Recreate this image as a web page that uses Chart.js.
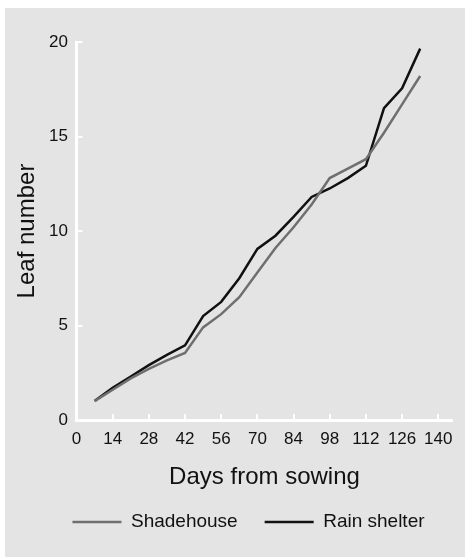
<!DOCTYPE html>
<html>
<head>
<meta charset="utf-8">
<script src="https://cdn.jsdelivr.net/npm/chart.js@4"></script>
<style>
  html, body { margin: 0; padding: 0; background: #fff; }
  #wrap { width: 468px; height: 557px; }
</style>
</head>
<body>
<div id="wrap"><canvas id="myChart" width="468" height="557"></canvas></div>
<script>
const days = [7, 14, 21, 28, 35, 42, 49, 56, 63, 70, 77, 84, 91, 98, 105, 112, 119, 126, 133];
const shadehouse = [1.0, 1.6, 2.2, 2.7, 3.15, 3.55, 4.9, 5.6, 6.5, 7.8, 9.1, 10.2, 11.4, 12.8, 13.3, 13.8, 15.2, 16.7, 18.2];
const rainShelter = [1.0, 1.7, 2.3, 2.9, 3.45, 3.95, 5.5, 6.25, 7.5, 9.05, 9.75, 10.75, 11.8, 12.25, 12.8, 13.45, 16.5, 17.55, 19.65];
const xTicks = [0, 14, 28, 42, 56, 70, 84, 98, 112, 126, 140];
const yTicks = [0, 5, 10, 15, 20];

const FONT = '"Liberation Sans", Arial, sans-serif';
const INK = '#111';

// grey paper behind the plot, with the thin white scan edge on top/left/right
const paper = {
  id: 'paper',
  beforeDraw(chart) {
    const ctx = chart.ctx;
    ctx.save();
    ctx.fillStyle = '#e4e4e4';
    ctx.fillRect(5, 8, chart.width - 8, chart.height - 8);
    ctx.restore();
  }
};

function toPoints(ys) {
  return days.map((d, i) => ({ x: d, y: ys[i] }));
}

const ctx = document.getElementById('myChart');
new Chart(ctx, {
  type: 'line',
  data: {
    datasets: [
      {
        label: 'Shadehouse',
        data: toPoints(shadehouse),
        borderColor: '#6f6f6f',
        backgroundColor: '#6f6f6f',
        borderWidth: 2.5,
        pointRadius: 0,
        tension: 0
      },
      {
        label: 'Rain shelter',
        data: toPoints(rainShelter),
        borderColor: '#111',
        backgroundColor: '#111',
        borderWidth: 2.5,
        pointRadius: 0,
        tension: 0
      }
    ]
  },
  options: {
    responsive: false,
    animation: false,
    // left padding pushes the legend right; the y axis width makes up the rest
    layout: {
      padding: { top: 42, right: 15, bottom: 15.5, left: 44 }
    },
    plugins: {
      tooltip: { enabled: false },
      legend: {
        position: 'bottom',
        labels: {
          usePointStyle: true,
          pointStyle: 'line',
          pointStyleWidth: 49,
          padding: 27,
          color: INK,
          font: { family: FONT, size: 19 }
        }
      }
    },
    scales: {
      x: {
        type: 'linear',
        min: 0,
        max: 145.5,
        afterBuildTicks: scale => { scale.ticks = xTicks.map(v => ({ value: v })); },
        afterFit: scale => { scale.height = 65.5; },
        border: { color: '#fff', width: 3 },
        grid: { drawOnChartArea: false, color: '#fff', tickColor: '#fff', lineWidth: 2, tickLength: -6 },
        ticks: { color: INK, padding: 15, maxRotation: 0, font: { family: FONT, size: 17 } },
        title: {
          display: true,
          text: 'Days from sowing',
          color: INK,
          font: { family: FONT, size: 24 },
          padding: { top: 0, bottom: -5.9 }
        }
      },
      y: {
        min: 0,
        max: 20,
        afterBuildTicks: scale => { scale.ticks = yTicks.map(v => ({ value: v })); },
        afterFit: scale => { scale.width = 32.5; },
        border: { color: '#fff', width: 3 },
        grid: { drawOnChartArea: false, color: '#fff', tickColor: '#fff', lineWidth: 2, tickLength: -6 },
        ticks: { color: INK, padding: 14.5, font: { family: FONT, size: 17 } },
        title: {
          display: true,
          text: 'Leaf number',
          color: INK,
          font: { family: FONT, size: 24 },
          padding: { top: -31.4, bottom: 0 }
        }
      }
    }
  },
  plugins: [paper]
});
</script>
</body>
</html>
